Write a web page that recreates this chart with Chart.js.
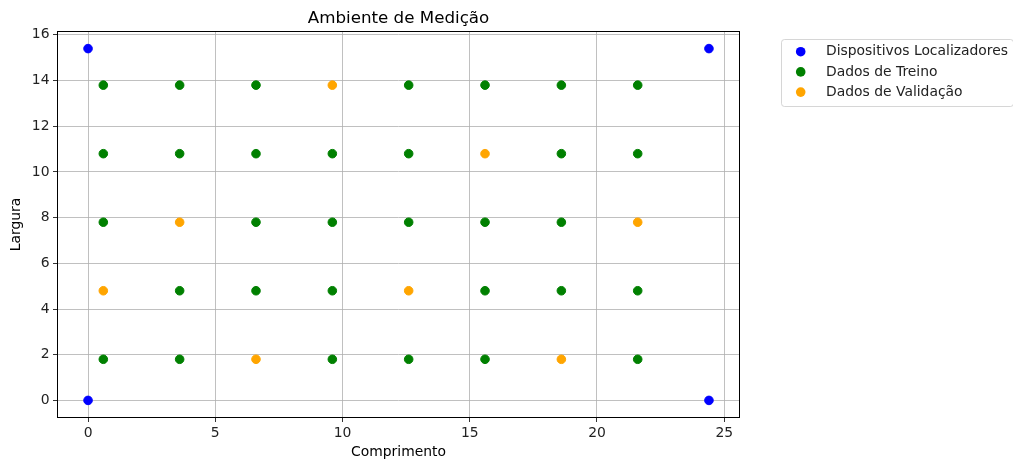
<!DOCTYPE html>
<html>
<head>
<meta charset="utf-8">
<script src="https://cdn.jsdelivr.net/npm/chart.js@4.4.1/dist/chart.umd.min.js"></script>
<style>
  html, body { margin: 0; padding: 0; background: #fff; }
  #wrap { width: 1013px; height: 461px; position: relative; }
</style>
</head>
<body>
<div id="wrap"><canvas id="c" width="1013" height="461"></canvas></div>
<script>
const title = 'Ambiente de Medição';
const xLabel = 'Comprimento';
const yLabel = 'Largura';
const seriesNames = ['Dispositivos Localizadores', 'Dados de Treino', 'Dados de Validação'];
const seriesColors = ['#0000ff', '#008000', '#ffa500'];

// Dispositivos Localizadores
const locX = [0, 0, 24.4, 24.4];
const locY = [0, 15.4, 15.4, 0];

// Dados de Treino
const trainX = [0.6, 3.6, 6.6, 12.6, 15.6, 18.6, 21.6,
                0.6, 3.6, 6.6, 9.6, 12.6, 18.6, 21.6,
                0.6, 6.6, 9.6, 12.6, 15.6, 18.6,
                3.6, 6.6, 9.6, 15.6, 18.6, 21.6,
                0.6, 3.6, 9.6, 12.6, 15.6, 21.6];
const trainY = [13.8, 13.8, 13.8, 13.8, 13.8, 13.8, 13.8,
                10.8, 10.8, 10.8, 10.8, 10.8, 10.8, 10.8,
                7.8, 7.8, 7.8, 7.8, 7.8, 7.8,
                4.8, 4.8, 4.8, 4.8, 4.8, 4.8,
                1.8, 1.8, 1.8, 1.8, 1.8, 1.8];

// Dados de Validação
const valX = [9.6, 15.6, 3.6, 21.6, 0.6, 12.6, 6.6, 18.6];
const valY = [13.8, 10.8, 7.8, 7.8, 4.8, 4.8, 1.8, 1.8];

const xTicks = [0, 5, 10, 15, 20, 25];
const yTicks = [0, 2, 4, 6, 8, 10, 12, 14, 16];

const toPts = (xs, ys) => xs.map((x, i) => ({x: x, y: ys[i]}));
const FONT = 'DejaVu Sans';

const ds = [toPts(locX, locY), toPts(trainX, trainY), toPts(valX, valY)].map((d, i) => ({
  label: seriesNames[i],
  data: d,
  backgroundColor: seriesColors[i],
  borderColor: seriesColors[i],
  borderWidth: 1,
  pointRadius: 4.3,
  pointHoverRadius: 4.3
}));

const framePlugin = {
  id: 'frame',
  afterDraw(chart) {
    const {ctx, chartArea: a} = chart;
    ctx.save();
    // axes frame
    ctx.strokeStyle = '#000';
    ctx.lineWidth = 1;
    ctx.strokeRect(Math.round(a.left) + 0.5, Math.round(a.top) + 0.5,
                   Math.round(a.right - a.left) - 1, Math.round(a.bottom - a.top) - 1);
    // title
    ctx.fillStyle = '#000';
    ctx.font = '16.7px "' + FONT + '"';
    ctx.textAlign = 'center';
    ctx.textBaseline = 'alphabetic';
    ctx.fillText(title, (a.left + a.right) / 2, 23);
    // legend
    const lx = 781.5, ly = 39.5, lw = 232, lh = 67;
    ctx.globalAlpha = 0.8;
    ctx.fillStyle = '#fff';
    ctx.strokeStyle = '#cccccc';
    ctx.lineWidth = 1;
    ctx.beginPath();
    ctx.roundRect(lx, ly, lw, lh, 3);
    ctx.fill();
    ctx.stroke();
    ctx.globalAlpha = 1;
    ctx.font = '13.9px "' + FONT + '"';
    ctx.textAlign = 'left';
    ctx.textBaseline = 'middle';
    chart.data.datasets.forEach((d, i) => {
      const y = 51.7 + i * 20.2;
      ctx.fillStyle = d.backgroundColor;
      ctx.beginPath();
      ctx.arc(800.7, y, 4.8, 0, Math.PI * 2);
      ctx.fill();
      ctx.fillStyle = '#222';
      ctx.fillText(d.label, 826, y);
    });
    ctx.restore();
  }
};

new Chart(document.getElementById('c'), {
  type: 'scatter',
  data: { datasets: ds },
  options: {
    responsive: false,
    animation: false,
    events: [],
    layout: { padding: { left: 0, right: 273, top: 31, bottom: 0 } },
    plugins: { legend: { display: false }, tooltip: { enabled: false }, title: { display: false } },
    scales: {
      x: {
        type: 'linear',
        min: -1.22, max: 25.62,
        z: 1,
        afterFit: s => { s.height = 43; },
        afterBuildTicks: s => { s.ticks = xTicks.map(v => ({value: v})); },
        ticks: { color: '#222', font: { family: FONT, size: 13.9 }, padding: 3.5, maxRotation: 0, includeBounds: false },
        grid: { color: '#b0b0b0', lineWidth: 0.8, tickColor: '#000', tickLength: 4 },
        border: { display: false },
        title: { display: true, text: xLabel, color: '#000', font: { family: FONT, size: 13.9 }, padding: { top: 0, bottom: 0 } }
      },
      y: {
        type: 'linear',
        min: -0.77, max: 16.17,
        z: 1,
        afterFit: s => { s.width = 57; },
        afterBuildTicks: s => { s.ticks = yTicks.map(v => ({value: v})); },
        ticks: { color: '#222', font: { family: FONT, size: 13.9 }, padding: 3.5, includeBounds: false },
        grid: { color: '#b0b0b0', lineWidth: 0.8, tickColor: '#000', tickLength: 4 },
        border: { display: false },
        title: { display: true, text: yLabel, color: '#000', font: { family: FONT, size: 13.9 }, padding: { top: 8, bottom: 0 } }
      }
    }
  },
  plugins: [framePlugin]
});
</script>
</body>
</html>
